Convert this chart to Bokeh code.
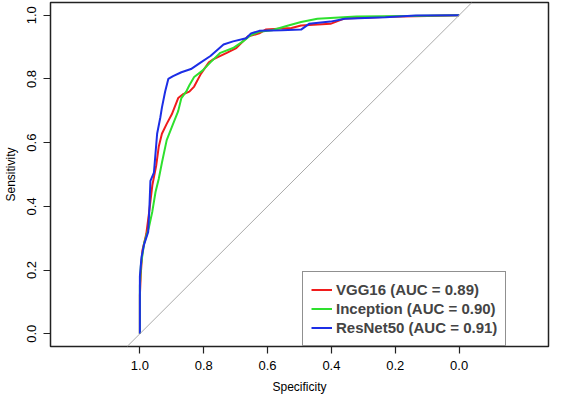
from bokeh.plotting import figure
from bokeh.models import Range1d, FixedTicker, NumeralTickFormatter, Slope, Legend, LegendItem
from bokeh.embed import file_html
from bokeh.resources import INLINE

# Data (specificity, sensitivity)
vgg16_spec = [1.0, 1.0, 0.997, 0.992, 0.980, 0.972, 0.961, 0.949, 0.941, 0.931, 0.916, 0.900,
              0.880, 0.865, 0.845, 0.830, 0.809, 0.784, 0.769, 0.728, 0.698, 0.662, 0.626,
              0.606, 0.525, 0.495, 0.403, 0.358, 0.221, 0.099, 0.0]
vgg16_sens = [0.0, 0.12, 0.19, 0.262, 0.313, 0.374, 0.466, 0.527, 0.587, 0.628, 0.659, 0.689,
              0.740, 0.752, 0.760, 0.776, 0.816, 0.852, 0.862, 0.882, 0.897, 0.933, 0.943,
              0.955, 0.960, 0.968, 0.973, 0.990, 0.995, 0.998, 1.0]

inception_spec = [1.0, 1.0, 0.997, 0.987, 0.972, 0.961, 0.951, 0.941, 0.931, 0.916, 0.896,
                  0.880, 0.870, 0.855, 0.845, 0.830, 0.804, 0.779, 0.748, 0.708, 0.677,
                  0.652, 0.626, 0.586, 0.535, 0.495, 0.444, 0.322, 0.160, 0.0]
inception_sens = [0.0, 0.15, 0.212, 0.283, 0.333, 0.384, 0.445, 0.486, 0.537, 0.608, 0.659,
                  0.699, 0.740, 0.760, 0.780, 0.806, 0.826, 0.852, 0.882, 0.897, 0.918,
                  0.938, 0.948, 0.953, 0.968, 0.979, 0.989, 0.996, 0.998, 1.0]

resnet50_spec = [1.0, 1.0, 0.995, 0.987, 0.974, 0.970, 0.967, 0.956, 0.946, 0.936, 0.931,
                 0.921, 0.911, 0.896, 0.870, 0.840, 0.809, 0.779, 0.738, 0.708, 0.667,
                 0.652, 0.626, 0.556, 0.495, 0.470, 0.403, 0.358, 0.231, 0.135, 0.0]
resnet50_sens = [0.0, 0.18, 0.24, 0.28, 0.32, 0.40, 0.48, 0.506, 0.628, 0.679, 0.71,
                 0.76, 0.80, 0.809, 0.821, 0.831, 0.852, 0.872, 0.908, 0.918, 0.928,
                 0.943, 0.951, 0.953, 0.955, 0.973, 0.980, 0.989, 0.994, 0.999, 1.0]

labels = ["VGG16 (AUC = 0.89)", "Inception (AUC = 0.90)", "ResNet50 (AUC = 0.91)"]
colors = ["#f01c1c", "#2ee02e", "#1c2ee6"]
ticks = [0.0, 0.2, 0.4, 0.6, 0.8, 1.0]

FONT = "Liberation Sans"

p = figure(width=550, height=396, x_range=Range1d(1.28, -0.28), y_range=Range1d(-0.04, 1.04),
           output_backend="svg", toolbar_location=None,
           min_border_left=10, min_border_right=2, min_border_top=2, min_border_bottom=10)
p.xgrid.visible = False
p.ygrid.visible = False
p.outline_line_color = "#222222"
p.outline_line_width = 1.5
p.outline_line_alpha = 1.0
p.background_fill_color = "white"
p.border_fill_color = "white"

for ax in (p.xaxis[0], p.yaxis[0]):
    ax.ticker = FixedTicker(ticks=ticks)
    ax.formatter = NumeralTickFormatter(format="0.0")
    ax.axis_line_color = None
    ax.major_tick_out = 7
    ax.major_tick_in = 0
    ax.major_tick_line_color = "#222222"
    ax.major_tick_line_width = 1.2
    ax.minor_tick_line_color = None
    ax.major_label_text_font = FONT
    ax.major_label_text_font_size = "13px"
    ax.major_label_text_color = "black"
    ax.major_label_standoff = 7
    ax.axis_label_text_font = FONT
    ax.axis_label_text_font_size = "12px"
    ax.axis_label_text_font_style = "normal"
    ax.axis_label_text_color = "black"
    ax.axis_label_standoff = 7

p.xaxis.axis_label = "Specificity"
p.yaxis.axis_label = "Sensitivity"
p.yaxis.major_label_orientation = "vertical"

p.add_layout(Slope(gradient=-1, y_intercept=1, line_color="#aaaaaa", line_width=1))

r1 = p.line(vgg16_spec, vgg16_sens, line_color=colors[0], line_width=2)
r2 = p.line(inception_spec, inception_sens, line_color=colors[1], line_width=2)
r3 = p.line(resnet50_spec, resnet50_sens, line_color=colors[2], line_width=2)

legend = Legend(items=[LegendItem(label=labels[0], renderers=[r1]),
                       LegendItem(label=labels[1], renderers=[r2]),
                       LegendItem(label=labels[2], renderers=[r3])],
                location=(252, 0), margin=0, padding=8, spacing=0,
                label_height=19, glyph_height=19, glyph_width=21, label_standoff=4,
                label_text_font=FONT, label_text_font_size="15px", label_text_font_style="bold",
                border_line_color="#222222", border_line_width=1.2, background_fill_color="white",
                background_fill_alpha=1.0)
p.add_layout(legend)

open("out.html", "w").write(file_html(p, INLINE))
